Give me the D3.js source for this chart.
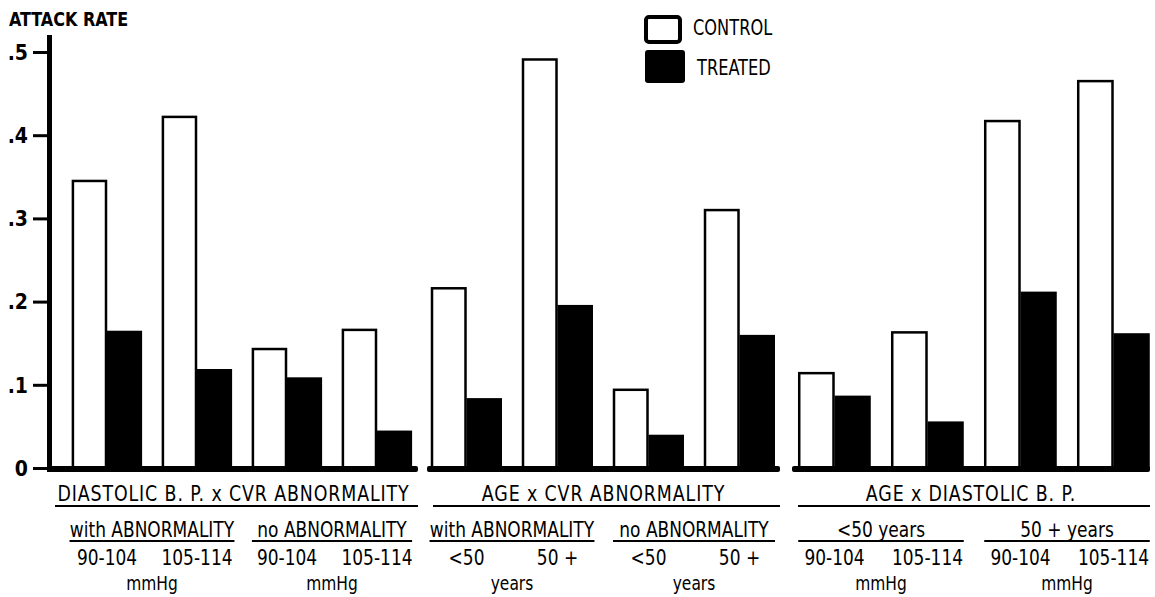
<!DOCTYPE html>
<html>
<head>
<meta charset="utf-8">
<script src="https://cdn.jsdelivr.net/npm/d3@7"></script>
<style>
  body { margin: 0; background: #fff; }
  svg text { font-family: "Liberation Sans Narrow", "DejaVu Sans Condensed", "Liberation Sans", sans-serif; fill: #000; }
</style>
</head>
<body>
<script>
const w = 1155;
const h = 597;

// data
const panelTitles = ["DIASTOLIC B. P.  x  CVR ABNORMALITY", "AGE  x  CVR ABNORMALITY", "AGE  x  DIASTOLIC B. P."];
const subgroupLabels = [
  ["with ABNORMALITY", "no ABNORMALITY"],
  ["with ABNORMALITY", "no ABNORMALITY"],
  ["<50 years", "50 +  years"]
];
const groupLabels = [
  ["90-104", "105-114", "90-104", "105-114"],
  ["<50", "50 +", "<50", "50 +"],
  ["90-104", "105-114", "90-104", "105-114"]
];
const unitLabels = [["mmHg", "mmHg"], ["years", "years"], ["mmHg", "mmHg"]];
const controlValues = [0.345, 0.422, 0.143, 0.166, 0.216, 0.491, 0.094, 0.310, 0.114, 0.163, 0.417, 0.465];
const treatedValues = [0.165, 0.119, 0.109, 0.045, 0.084, 0.196, 0.040, 0.160, 0.087, 0.056, 0.212, 0.162];
const yTicks = [0, 0.1, 0.2, 0.3, 0.4, 0.5];
const yTickLabels = ["0", ".1", ".2", ".3", ".4", ".5"];
const seriesNames = ["CONTROL", "TREATED"];

// layout of the three panels
const panels = [
  { base: [49, 418], band: [62, 422] },
  { base: [427, 780], band: [421, 785] },
  { base: [792, 1150], band: [788, 1160] }
];

const svg = d3.select("body").append("svg")
  .attr("width", w)
  .attr("height", h);

// narrow lettering: squeeze text horizontally around its anchor point
function label(parent, x, y, txt, size, sx, anchor) {
  const t = parent.append("text")
    .attr("transform", `translate(${x},${y}) scale(${sx},1)`)
    .attr("text-anchor", anchor || "middle")
    .style("font-size", size + "px")
    .text(txt);
  return t;
}

const y = d3.scaleLinear().domain([0, 0.5]).range([468, 52]);

// y axis
label(svg, 9, 26, "ATTACK RATE", 20, 0.89, "start").style("font-weight", "bold");

const yAxis = d3.axisLeft(y)
  .tickValues(yTicks)
  .tickFormat((d, i) => yTickLabels[i])
  .tickSize(16)
  .tickPadding(5);

const yg = svg.append("g")
  .attr("transform", "translate(49,0)")
  .call(yAxis);
yg.select(".domain").remove();
yg.selectAll(".tick line").attr("stroke", "#000").attr("stroke-width", 3);
yg.selectAll(".tick text")
  .style("font-size", "21px").style("font-weight", "bold")
  .attr("dy", "0.35em");

svg.append("line")
  .attr("x1", 49.5).attr("x2", 49.5)
  .attr("y1", 35).attr("y2", 472)
  .attr("stroke", "#000").attr("stroke-width", 5);

// panels
panels.forEach((p, pi) => {
  const groups = groupLabels[pi].map((d, i) => i);
  const x0 = d3.scaleBand().domain(groups).range(p.band).paddingInner(0.22).paddingOuter(0.11);
  const x1 = d3.scaleBand().domain(seriesNames).range([0, x0.bandwidth()]);
  const vals = groups.map(g => ({
    g: g,
    control: controlValues[pi * 4 + g],
    treated: treatedValues[pi * 4 + g]
  }));

  const g = svg.append("g");

  // control bars
  g.selectAll("rect.control")
    .data(vals)
    .enter()
    .append("rect")
    .attr("class", "control")
    .attr("x", d => x0(d.g) + x1("CONTROL") + 1)
    .attr("y", d => y(d.control))
    .attr("width", x1.bandwidth() - 2)
    .attr("height", d => y(0) - y(d.control))
    .attr("fill", "#fff")
    .attr("stroke", "#000")
    .attr("stroke-width", 2.5);

  // treated bars
  g.selectAll("rect.treated")
    .data(vals)
    .enter()
    .append("rect")
    .attr("class", "treated")
    .attr("x", d => x0(d.g) + x1("TREATED"))
    .attr("y", d => y(d.treated))
    .attr("width", x1.bandwidth())
    .attr("height", d => y(0) - y(d.treated))
    .attr("fill", "#000");

  // baseline
  g.append("rect")
    .attr("x", p.base[0]).attr("y", 466)
    .attr("width", p.base[1] - p.base[0]).attr("height", 6)
    .attr("rx", 2)
    .attr("fill", "#000");

  // panel title
  const mid = (p.base[0] + p.base[1]) / 2;
  const title = label(g, mid, 501, panelTitles[pi], 22, 0.88).style("letter-spacing", "1px");
  const tw = title.node().getBBox().width * 0.88;
  g.append("line")
    .attr("x1", Math.min(mid - tw / 2, p.base[0] + 6)).attr("x2", p.base[1])
    .attr("y1", 506).attr("y2", 506)
    .attr("stroke", "#000").attr("stroke-width", 2);

  // subgroups
  [0, 1].forEach(s => {
    const ga = x0(s * 2), gb = x0(s * 2 + 1) + x0.bandwidth();
    const cmid = (ga + gb) / 2;
    const st = label(g, cmid, 537, subgroupLabels[pi][s], 22, 0.86);
    const sw = st.node().getBBox().width * 0.86;
    g.append("line")
      .attr("x1", Math.min(cmid - sw / 2, ga)).attr("x2", Math.max(cmid + sw / 2, gb))
      .attr("y1", 541).attr("y2", 541)
      .attr("stroke", "#000").attr("stroke-width", 2);

    label(g, cmid, 590, unitLabels[pi][s], 20, 0.86);
  });

  // group labels
  vals.forEach(d => {
    label(g, x0(d.g) + x0.bandwidth() / 2, 565, groupLabels[pi][d.g], 22, 0.86);
  });
});

// legend
const legend = svg.append("g").selectAll("g")
  .data(seriesNames)
  .enter()
  .append("g")
  .attr("transform", (d, i) => "translate(0," + i * 35 + ")");

legend.append("rect")
  .attr("x", (d, i) => i ? 645 : 646)
  .attr("y", (d, i) => i ? 15 : 17)
  .attr("width", (d, i) => i ? 40 : 34)
  .attr("height", (d, i) => i ? 33 : 25)
  .attr("rx", 3)
  .attr("fill", (d, i) => i ? "#000" : "#fff")
  .attr("stroke", "#000")
  .attr("stroke-width", (d, i) => i ? 0 : 4);

legend.each(function (d, i) {
  label(d3.select(this), i ? 697 : 693, i ? 40 : 35, d, 22, 0.82, "start");
});
</script>
</body>
</html>
